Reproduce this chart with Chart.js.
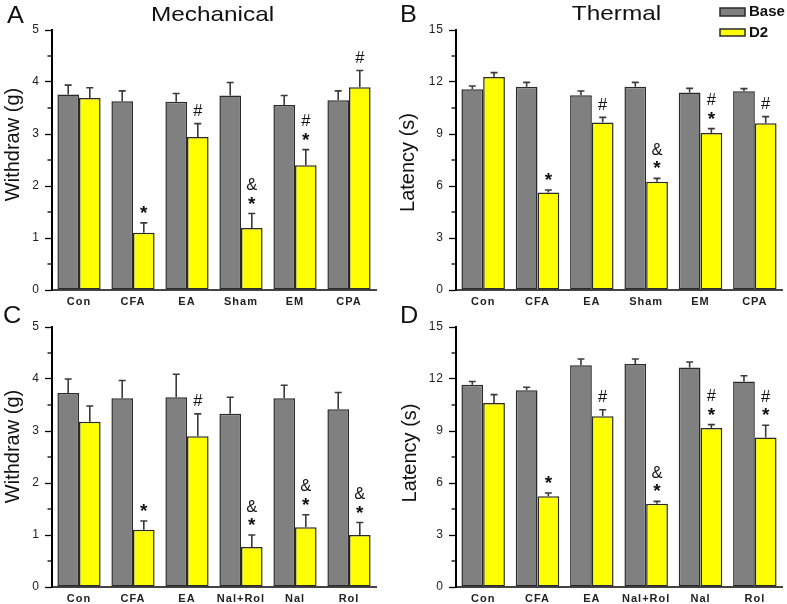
<!DOCTYPE html>
<html>
<head>
<meta charset="utf-8">
<script src="https://cdn.jsdelivr.net/npm/chart.js@4.4.1/dist/chart.umd.min.js"></script>
<style>
html,body{margin:0;padding:0;background:#fff;}
#wrap{position:relative;width:787px;height:604px;overflow:hidden;background:#fff;}
canvas{position:absolute;}
</style>
</head>
<body>
<div id="wrap">
<canvas id="cA" width="393" height="308" style="left:0px;top:0px"></canvas>
<canvas id="cB" width="394" height="308" style="left:393px;top:0px"></canvas>
<canvas id="cC" width="393" height="304" style="left:0px;top:300px"></canvas>
<canvas id="cD" width="394" height="304" style="left:393px;top:300px"></canvas>
</div>
<script>
// ---------------- DATA ----------------
const categoriesTop = ['Con', 'CFA', 'EA', 'Sham', 'EM', 'CPA'];
const categoriesBottom = ['Con', 'CFA', 'EA', 'Nal+Rol', 'Nal', 'Rol'];
const seriesNames = ['Base', 'D2'];

const mechTickLabels = [0, 1, 2, 3, 4, 5];
const thermTickLabels = [0, 3, 6, 9, 12, 15];

// Panel A - Mechanical
const mechBaseA    = [3.76, 3.63, 3.62, 3.74, 3.56, 3.65];
const mechBaseErrA = [0.18, 0.20, 0.16, 0.25, 0.18, 0.18];
const mechD2A      = [3.69, 1.10, 2.94, 1.19, 2.40, 3.90];
const mechD2ErrA   = [0.20, 0.19, 0.26, 0.28, 0.30, 0.32];
const marksA       = ['', '*', '#', '&*', '#*', '#'];

// Panel B - Thermal
const thermBaseB    = [11.58, 11.73, 11.23, 11.73, 11.40, 11.46];
const thermBaseErrB = [0.19, 0.25, 0.25, 0.25, 0.23, 0.16];
const thermD2B      = [12.29, 5.63, 9.67, 6.25, 9.06, 9.62];
const thermD2ErrB   = [0.25, 0.14, 0.29, 0.19, 0.25, 0.38];
const marksB        = ['', '*', '#', '&*', '#*', '#'];

// Panel C - Mechanical
const mechBaseC    = [3.73, 3.63, 3.65, 3.33, 3.63, 3.42];
const mechBaseErrC = [0.27, 0.34, 0.44, 0.32, 0.25, 0.32];
const mechD2C      = [3.18, 1.10, 2.90, 0.77, 1.15, 1.00];
const mechD2ErrC   = [0.30, 0.17, 0.43, 0.23, 0.24, 0.24];
const marksC       = ['', '*', '#', '&*', '&*', '&*'];

// Panel D - Thermal
const thermBaseD    = [11.67, 11.35, 12.79, 12.87, 12.67, 11.86];
const thermBaseErrD = [0.19, 0.17, 0.36, 0.28, 0.31, 0.33];
const thermD2D      = [10.62, 5.23, 9.85, 4.81, 9.17, 8.63];
const thermD2ErrD   = [0.48, 0.19, 0.38, 0.13, 0.20, 0.70];
const marksD        = ['', '*', '#', '&*', '#*', '#*'];

// ---------------- STYLE / LAYOUT ----------------
const FONT = '"Liberation Sans", Arial, Helvetica, sans-serif';
const GRAY = '#808080';
const YELLOW = '#ffff00';
const EDGE = '#2a2a2a';

function drawText(ctx, text, x, y, font, color, align, baseline, sx, rot) {
  ctx.save();
  ctx.letterSpacing = '0px';
  ctx.font = font;
  ctx.fillStyle = color;
  ctx.textAlign = align;
  ctx.textBaseline = baseline;
  ctx.translate(x, y);
  if (rot) ctx.rotate(rot);
  if (sx && sx !== 1) ctx.scale(sx, 1);
  ctx.fillText(text, 0, 0);
  ctx.restore();
}

function drawGlyph(ctx, ch, x, cy) {
  ctx.save();
  ctx.letterSpacing = '0px';
  ctx.font = (ch === '*') ? 'bold 19px ' + FONT : '16.5px ' + FONT;
  ctx.fillStyle = '#111';
  ctx.textAlign = 'center';
  ctx.textBaseline = 'alphabetic';
  const m = ctx.measureText(ch);
  const off = (m.actualBoundingBoxAscent - m.actualBoundingBoxDescent) / 2;
  ctx.fillText(ch, x, cy + off);
  ctx.restore();
}

const decoPlugin = {
  id: 'deco',
  beforeDraw(chart) {
    chart.ctx.letterSpacing = '1px';
  },
  afterDatasetsDraw(chart) {
    const ctx = chart.ctx;
    const ys = chart.scales.y;
    ctx.save();
    chart.data.datasets.forEach((ds, i) => {
      const meta = chart.getDatasetMeta(i);
      meta.data.forEach((el, j) => {
        const top = ys.getPixelForValue(ds.data[j] + ds.errors[j]);
        ctx.strokeStyle = '#3a3a3a';
        ctx.lineWidth = 1.6;
        ctx.beginPath();
        ctx.moveTo(el.x, el.y);
        ctx.lineTo(el.x, top);
        ctx.moveTo(el.x - 3.5, top);
        ctx.lineTo(el.x + 3.5, top);
        ctx.stroke();
        if (ds.marks && ds.marks[j]) {
          const lines = ds.marks[j].split('');
          let cy = top - 13.5;
          for (let k = lines.length - 1; k >= 0; k--) {
            drawGlyph(ctx, lines[k], el.x, cy);
            cy -= 16;
          }
        }
      });
    });
    ctx.restore();
  },
  afterDraw(chart, args, o) {
    const ctx = chart.ctx;
    ctx.letterSpacing = '0px';
    const ys = chart.scales.y;
    const left = chart.chartArea.left;
    // minor ticks
    ctx.save();
    ctx.strokeStyle = '#000';
    ctx.lineWidth = 1.3;
    ys.ticks.forEach(t => {
      if (!o.isMajor(t.value)) {
        const y = ys.getPixelForValue(t.value);
        ctx.beginPath();
        ctx.moveTo(left - 4.5, y);
        ctx.lineTo(left, y);
        ctx.stroke();
      }
    });
    ctx.restore();
    const ox = o.offX, oy = o.offY;
    // panel letter
    drawText(ctx, o.letter, o.letterPos[0] - ox, o.letterPos[1] - oy, '23px ' + FONT, '#111', 'left', 'alphabetic', 1.1);
    // panel title
    drawText(ctx, o.title, o.titlePos[0] - ox, o.titlePos[1] - oy, '21px ' + FONT, '#111', 'center', 'alphabetic', 1.16);
    // y title
    drawText(ctx, o.yTitle, o.yTitlePos[0] - ox, o.yTitlePos[1] - oy, '20px ' + FONT, '#111', 'center', 'alphabetic', 1, -Math.PI / 2);
    // legend
    if (o.legend) {
      chart.data.datasets.forEach((ds, i) => {
        const b = o.legendBoxes[i];
        ctx.save();
        ctx.fillStyle = ds.backgroundColor;
        ctx.fillRect(b[0] - ox, b[1] - oy, b[2] - b[0], b[3] - b[1]);
        ctx.strokeStyle = EDGE;
        ctx.lineWidth = 1.5;
        ctx.strokeRect(b[0] - ox, b[1] - oy, b[2] - b[0], b[3] - b[1]);
        ctx.restore();
        drawText(ctx, ds.label, b[2] + 4 - ox, (b[1] + b[3]) / 2 - oy, 'bold 15px ' + FONT, '#111', 'left', 'middle', 1);
      });
    }
  }
};

function makePanel(cfg) {
  const c = document.getElementById(cfg.canvasId);
  const W = c.width, H = c.height;
  const a = cfg.area; // [left, top, right, bottom] in canvas coords
  const isMajor = v => cfg.tickLabels.some(t => Math.abs(t - v) < 1e-6);
  return new Chart(c, {
    type: 'bar',
    data: {
      labels: cfg.categories,
      datasets: [
        { label: seriesNames[0], data: cfg.base, errors: cfg.baseErr, backgroundColor: GRAY, borderColor: EDGE, borderWidth: 1.5, borderSkipped: false },
        { label: seriesNames[1], data: cfg.d2, errors: cfg.d2Err, marks: cfg.marks, backgroundColor: YELLOW, borderColor: EDGE, borderWidth: 1.5, borderSkipped: false }
      ]
    },
    options: {
      responsive: false,
      animation: false,
      devicePixelRatio: 1,
      layout: { padding: { left: 0, top: a[1], right: W - a[2], bottom: 0 } },
      datasets: { bar: { barPercentage: 1.0, categoryPercentage: 0.8 } },
      plugins: {
        legend: { display: false },
        tooltip: { enabled: false },
        deco: {
          isMajor: isMajor,
          offX: cfg.offX, offY: cfg.offY,
          letter: cfg.letter, letterPos: cfg.letterPos,
          title: cfg.title, titlePos: cfg.titlePos,
          yTitle: cfg.yTitle, yTitlePos: cfg.yTitlePos,
          legend: !!cfg.legend, legendBoxes: cfg.legendBoxes
        }
      },
      scales: {
        x: {
          offset: true,
          grid: { display: true, drawOnChartArea: false, drawTicks: false, color: 'rgba(0,0,0,0)' },
          border: { display: true, color: '#444', width: 2 },
          ticks: { padding: 5, color: '#222', font: { family: FONT, size: 11, weight: 'bold' }, maxRotation: 0, autoSkip: false },
          afterFit(s) { s.height = H - a[3]; }
        },
        y: {
          min: 0,
          max: cfg.max,
          grid: {
            display: true, drawOnChartArea: false, drawTicks: true, tickLength: 7,
            tickWidth: 1.3,
            tickColor: ctx => isMajor(ctx.tick.value) ? '#000' : 'rgba(0,0,0,0)'
          },
          border: { display: true, color: '#000', width: 2 },
          ticks: {
            stepSize: cfg.step,
            padding: 5,
            color: '#222',
            font: { family: FONT, size: 12 },
            callback: v => isMajor(v) ? String(cfg.tickLabels.find(t => Math.abs(t - v) < 1e-6)) : ''
          },
          afterFit(s) { s.width = a[0]; }
        }
      }
    },
    plugins: [decoPlugin]
  });
}

makePanel({
  canvasId: 'cA', offX: 0, offY: 0, area: [52, 30, 376, 290],
  categories: categoriesTop, base: mechBaseA, baseErr: mechBaseErrA, d2: mechD2A, d2Err: mechD2ErrA, marks: marksA,
  max: 5, step: 0.5, tickLabels: mechTickLabels,
  letter: 'A', letterPos: [7, 23], title: 'Mechanical', titlePos: [212.5, 21],
  yTitle: 'Withdraw (g)', yTitlePos: [18.5, 144.5]
});
makePanel({
  canvasId: 'cB', offX: 393, offY: 0, area: [63, 30, 389, 290],
  categories: categoriesTop, base: thermBaseB, baseErr: thermBaseErrB, d2: thermD2B, d2Err: thermD2ErrB, marks: marksB,
  max: 15, step: 1.5, tickLabels: thermTickLabels,
  letter: 'B', letterPos: [400, 22], title: 'Thermal', titlePos: [616.5, 20],
  yTitle: 'Latency (s)', yTitlePos: [414, 162.5],
  legend: true, legendBoxes: [[720, 8, 745, 16], [720, 29, 745, 36]]
});
makePanel({
  canvasId: 'cC', offX: 0, offY: 300, area: [52, 27, 376, 287],
  categories: categoriesBottom, base: mechBaseC, baseErr: mechBaseErrC, d2: mechD2C, d2Err: mechD2ErrC, marks: marksC,
  max: 5, step: 0.5, tickLabels: mechTickLabels,
  letter: 'C', letterPos: [3, 322.5], title: '', titlePos: [0, 0],
  yTitle: 'Withdraw (g)', yTitlePos: [18.5, 446.5]
});
makePanel({
  canvasId: 'cD', offX: 393, offY: 300, area: [63, 27, 389, 287],
  categories: categoriesBottom, base: thermBaseD, baseErr: thermBaseErrD, d2: thermD2D, d2Err: thermD2ErrD, marks: marksD,
  max: 15, step: 1.5, tickLabels: thermTickLabels,
  letter: 'D', letterPos: [400, 322.5], title: '', titlePos: [0, 0],
  yTitle: 'Latency (s)', yTitlePos: [416, 453]
});
</script>
</body>
</html>
